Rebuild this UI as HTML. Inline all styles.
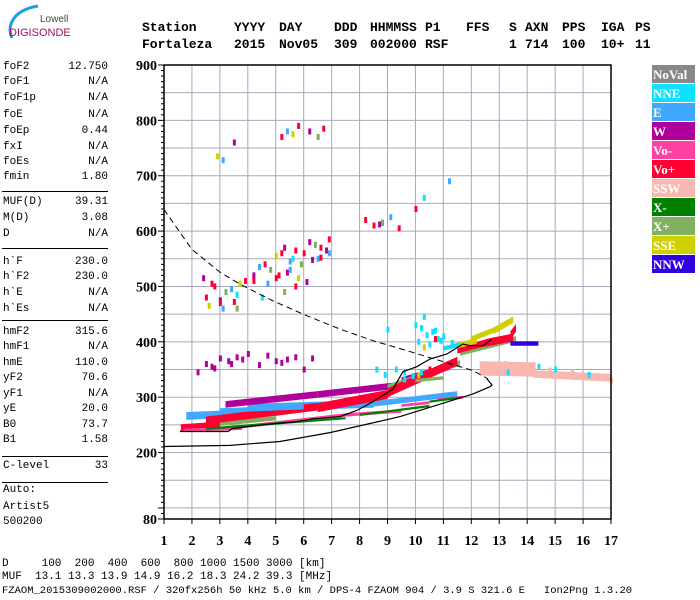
<!DOCTYPE html>
<html><head><meta charset="utf-8"><style>
body{margin:0;background:#fff;width:700px;height:600px;overflow:hidden;position:relative;font-family:"Liberation Mono",monospace}
.t{position:absolute;font-size:11px;white-space:pre;color:#000}
.h{position:absolute;font-size:13px;font-weight:bold;white-space:pre;color:#000}
.hr{position:absolute;left:2px;width:106px;height:1px;background:#000}
</style></head><body>
<svg style="position:absolute;left:0;top:0" width="90" height="50">
<path d="M12,38 C6,25 14,10 38,6" stroke="#1aa0e0" stroke-width="3" fill="none"/>
<text x="40" y="22" font-family="Liberation Sans,sans-serif" font-size="10" fill="#444">Lowell</text>
<text x="9" y="36" font-family="Liberation Sans,sans-serif" font-size="11" fill="#a01060">DIGISONDE</text>
</svg>
<div id="hdr"></div>
<div id="panel"></div>
<svg id="chart" style="position:absolute;left:0;top:0" width="700" height="600"></svg>
<div class="t" style="left:2px;top:558px">D     100  200  400  600  800 1000 1500 3000 [km]</div>
<div class="t" style="left:2px;top:571px">MUF  13.1 13.3 13.9 14.9 16.2 18.3 24.2 39.3 [MHz]</div>
<div class="t" style="left:2px;top:585px;font-size:10.5px">FZAOM_2015309002000.RSF / 320fx256h 50 kHz 5.0 km / DPS-4 FZAOM 904 / 3.9 S 321.6 E   Ion2Png 1.3.20</div>
<script>
// ---- header ----
const hdrRow1=["Station","YYYY","DAY","DDD","HHMMSS","P1","FFS","S","AXN","PPS","IGA","PS"];
const hdrRow2=["Fortaleza","2015","Nov05","309","002000","RSF","","1","714","100","10+","11"];
const hdrX=[142,234,279,334,370,425,466,509,525,562,601,635];
const hdr=document.getElementById('hdr');
[hdrRow1,hdrRow2].forEach((row,ri)=>row.forEach((w,i)=>{
  const d=document.createElement('div');d.className='h';d.textContent=w;
  d.style.left=hdrX[i]+'px';d.style.top=(20+ri*17)+'px';
  
  
  hdr.appendChild(d);}));
// ---- parameter panel ----
const pNames=["foF2","foF1","foF1p","foE","foEp","fxI","foEs","fmin","MUF(D)","M(D)","D","h`F","h`F2","h`E","h`Es","hmF2","hmF1","hmE","yF2","yF1","yE","B0","B1","C-level","Auto:","Artist5","500200"];
const pVals=["12.750","N/A","N/A","N/A","0.44","N/A","N/A","1.80","39.31","3.08","N/A","230.0","230.0","N/A","N/A","315.6","N/A","110.0","70.6","N/A","20.0","73.7","1.58","33","","",""];
const pY=[68,83,99,116,132,148,163,178,203,219,235,263,278,294,310,333,348,364,379,395,410,426,441,467,491,508,523];
const lineY=[191,248,320,456,482];
const panel=document.getElementById('panel');
pNames.forEach((n,i)=>{
  const a=document.createElement('div');a.className='t';a.textContent=n;a.style.left='3px';a.style.top=(pY[i]-7)+'px';
  
  
  panel.appendChild(a);
  if(pVals[i]){const b=document.createElement('div');b.className='t';b.textContent=pVals[i];b.style.right=(700-108)+'px';b.style.top=(pY[i]-7)+'px';
  
  
  panel.appendChild(b);}
});
lineY.forEach(y=>{const l=document.createElement('div');l.className='hr';l.style.top=y+'px';
  
  
  panel.appendChild(l);});

// ---- chart data ----
const xTicks=[1,2,3,4,5,6,7,8,9,10,11,12,13,14,15,16,17];
const yTickLabels=[80,200,300,400,500,600,700,800,900];
const legendNames=["NoVal","NNE","E","W","Vo-","Vo+","SSW","X-","X+","SSE","NNW"];
const legendColors=["#888888","#10e0ff","#40a8ff","#b0009c","#ff40a0","#ff0033","#f8b8b0","#008000","#80b060","#d0d000","#3000e0"];
// bands: [f1,h1,f2,h2,thickness km], colour index into legend
const bandColor=[6,6,2,2,2,3,3,3,3,8,8,8,8,5,5,5,5,5,5,5,4,4,4,4,4,7,7,7,9,9,9,10,1,8,2];
const bandF1=[12.3,14.2,1.8,4.0,8.5,1.7,3.2,6.5,9.5,2.0,5.0,9.0,11.6,1.6,2.5,6.5,9.0,11.5,12.5,13.4,1.7,3.5,7.5,9.5,10.8,2.5,8.0,10.5,11.4,12.0,12.8,13.4,11.0,10.0,3.0];
const bandF2=[14.3,17.0,4.5,8.5,11.5,2.5,6.5,9.5,11.2,5.0,9.0,11.6,13.6,3.0,6.5,9.0,11.5,12.8,13.5,13.6,3.8,7.5,9.5,10.5,11.7,7.5,10.5,11.6,12.2,13.0,13.5,14.4,11.6,11.0,6.0];
const bandH1=[352,342,266,281,288,248,287,305,330,247,270,318,380,245,258,281,308,385,398,412,240,245,268,285,296,243,268,292,392,405,420,397,388,330,276];
const bandH2=[350,335,272,288,306,248,305,322,355,262,300,362,405,250,283,305,365,402,408,425,244,268,275,290,300,262,284,299,402,425,440,397,395,335,282];
const bandThk=[26,14,14,14,10,6,12,12,12,8,8,10,10,12,14,16,16,12,14,14,6,6,6,5,5,4,4,4,10,10,12,8,8,6,8];
// scatter points
const ptColor=[5,5,3,8,2,1,9,5,3,2,5,8,9,5,3,2,1,5,9,5,3,8,2,5,3,5,9,5,2,5,8,3,5,1,2,5,3,9,5,10,3,3,3,3,3,3,3,3,3,3,3,3,3,1,1,1,1,1,1,1,1,1,1,1,1,1,1,6,6,6,6,6,6,6,6,6,6,6,6,1,1,1,1,1,1,1,9,9,5,5,9,5,3,8,5,2,5,3,2,9,5,5,8,2,5,3,5,1,2,3,3,3,3,3,1,1,1,1,5,2,8,3,5,2,8,5,3];
const ptF=[2.5,2.8,3.0,3.2,3.4,3.6,3.7,3.9,4.2,4.4,4.6,4.8,5.0,5.2,5.3,5.5,5.6,5.7,5.9,6.0,6.2,6.4,6.5,6.6,6.8,6.9,2.6,3.0,3.1,3.5,3.6,2.4,2.7,4.5,4.7,5.0,5.4,5.8,4.2,8.8,2.5,2.8,3.0,3.3,3.6,3.8,4.0,4.7,5.0,5.4,5.7,6.3,2.2,10.0,10.2,10.4,10.6,10.8,11.0,10.3,10.7,9.0,13.3,14.4,15.0,15.6,16.2,12.5,12.9,13.2,13.6,14.0,14.4,14.8,15.2,15.6,16.0,16.5,17.0,9.6,9.9,10.2,8.6,8.9,9.3,9.6,10.1,10.3,10.7,10.5,5.6,5.8,6.2,6.5,6.7,5.4,5.2,3.5,3.1,2.9,8.2,8.5,8.8,9.1,9.4,8.7,10.0,10.3,11.2,2.7,3.4,4.4,5.2,6.0,10.1,10.5,10.9,11.3,5.1,5.5,5.9,6.3,6.6,6.9,5.3,5.7,6.1];
const ptH=[480,500,475,490,495,485,505,510,520,535,540,530,555,560,570,545,550,565,540,560,580,575,550,570,565,585,465,470,460,472,460,515,505,480,505,515,525,515,510,615,360,352,370,365,372,368,378,375,365,368,372,370,345,430,425,412,418,405,410,445,420,422,345,355,350,345,340,345,352,360,348,355,342,348,340,345,338,335,330,332,338,345,350,340,350,345,340,390,405,350,775,790,780,770,785,780,770,760,728,735,620,610,615,625,605,612,640,660,690,355,360,358,362,350,400,395,402,398,520,530,540,548,552,560,490,500,508];

// ---- chart drawing ----
const svg=document.getElementById('chart');
const NS='http://www.w3.org/2000/svg';
const L=164,R=611,T=65,B=519;
const X=f=>L+(f-1)*(R-L)/16;
const Y=h=>B-(h-80)*(B-T)/820;
function mk(tag,attrs){const e=document.createElementNS(NS,tag);for(const k in attrs)e.setAttribute(k,attrs[k]);svg.appendChild(e);return e;}
// grid
for(let h=100;h<=850;h+=50){const g=mk('line',{x1:L,x2:R,y1:Y(h),y2:Y(h),stroke:'#a8a8bc','stroke-width':1});
  
  }
xTicks.slice(1,-1).forEach(f=>{const g=mk('line',{x1:X(f),x2:X(f),y1:T,y2:B,stroke:'#a8a8bc','stroke-width':1});
  
  });
// bands
bandColor.forEach((c,i)=>{
  const t=bandThk[i]/2;
  const p=[[bandF1[i],bandH1[i]+t],[bandF2[i],bandH2[i]+t],[bandF2[i],bandH2[i]-t],[bandF1[i],bandH1[i]-t]].map(q=>X(q[0]).toFixed(1)+','+Y(q[1]).toFixed(1)).join(' ');
  const e=mk('polygon',{points:p,fill:legendColors[c]});
  
  
});
// points
ptColor.forEach((c,i)=>{
  const e=mk('rect',{x:X(ptF[i])-1,y:Y(ptH[i])-3,width:3,height:6,fill:legendColors[c]});
  
  
});
// trace, profile, dashed
const traceF=[1.57,3.29,3.43,4.0,4.9,5.76,6.33,7.3,7.9,8.48,9.2,9.55,10.05,10.52,11.13,11.7,11.95,12.42,12.74];
const traceH=[238,238,243,247,252,256,261,265,276,292,315,346,355,369,378,396,393,393,405];
const profF=[1,3.36,5.15,6.94,9.45,12.06,12.67,12.74,12.56];
const profH=[211,213,220,236,265,306,319,322,333];
const dashF=[1,2.0,3.0,3.72,4.9,6.12,7.3,8.48,9.7,10.88,12.06,12.6];
const dashH=[639,567,526,504,474,447,423,402,384,366,348,333];
function pl(fs,hs,name,extra){const e=mk('polyline',Object.assign({points:fs.map((f,i)=>X(f).toFixed(1)+','+Y(hs[i]).toFixed(1)).join(' '),fill:'none',stroke:'#000','stroke-width':1.2},extra));
  
  }
pl(traceF,traceH,'scaled-trace',{});
pl(profF,profH,'density-profile',{});
pl(dashF,dashH,'muf-dashed-curve',{'stroke-dasharray':'6,4','stroke-width':1});
// frame
const fr=mk('rect',{x:L,y:T,width:R-L,height:B-T,fill:'none',stroke:'#000','stroke-width':1.5});


// y minor ticks
for(let h=80;h<=900;h+=10){const maj=(h%100===0||h===80);const e=mk('line',{x1:L-(maj?6:3),x2:L,y1:Y(h),y2:Y(h),stroke:'#000'});
  
  }
yTickLabels.forEach(h=>{const e=mk('text',{x:157,y:Y(h)+5,'text-anchor':'end','font-family':'Liberation Serif,serif','font-weight':'bold','font-size':14});e.textContent=h;
  
  });
xTicks.forEach(f=>{const t=mk('line',{x1:X(f),x2:X(f),y1:B,y2:B+5,stroke:'#000'});
  
  
  const e=mk('text',{x:X(f),y:545,'text-anchor':'middle','font-family':'Liberation Serif,serif','font-weight':'bold','font-size':14});e.textContent=f;
  
  });
// legend
legendNames.forEach((n,i)=>{
  const y=65+i*19;
  const r=mk('rect',{x:652,y:y,width:43,height:18,fill:legendColors[i]});
  
  
  const t=mk('text',{x:653,y:y+14,fill:'#fff','font-family':'Liberation Serif,serif','font-weight':'bold','font-size':13});t.textContent=n;
  
  
});
</script>
</body></html>
